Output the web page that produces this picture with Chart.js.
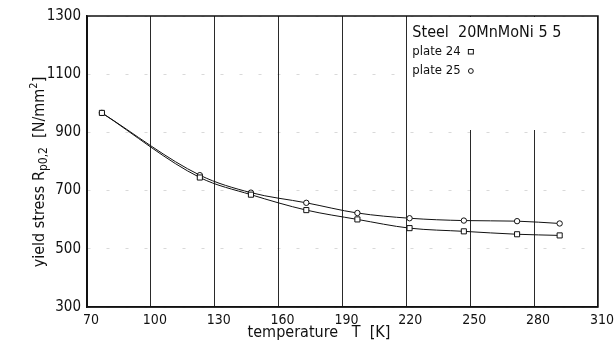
<!DOCTYPE html>
<html>
<head>
<meta charset="utf-8">
<script src="https://cdn.jsdelivr.net/npm/chart.js@4"></script>
<style>
  html, body { margin: 0; padding: 0; background: #fff; }
  #wrap { width: 615px; height: 348px; }
</style>
</head>
<body>
<div id="wrap"><canvas id="yieldChart" width="615" height="348"></canvas></div>
<script>
const temperatures = [77, 123, 147, 173, 197, 221.5, 247, 272, 292];
const plate24 = [967, 745, 686, 633, 601, 571, 560, 550, 546];
const plate25 = [967, 753, 693, 658, 623, 605, 597, 595, 587];
const xTicks = [70, 100, 130, 160, 190, 220, 250, 280, 310];
const yTicks = [300, 500, 700, 900, 1100, 1300];

const FONT = '"DejaVu Sans Condensed", "Liberation Sans Narrow", sans-serif';

function toPoints(xs, ys) {
    return xs.map(function (x, i) { return { x: x, y: ys[i] }; });
}

// frame, legend block and axis titles
const decorations = {
    id: 'decorations',
    beforeDatasetsDraw(chart) {
        const ctx = chart.ctx;
        const a = chart.chartArea;
        const left = chart.scales.x.getPixelForValue(220) + 1;
        ctx.save();
        ctx.fillStyle = '#fff';
        ctx.fillRect(left, a.top + 1, a.right - left - 1, 113);
        ctx.restore();
    },
    afterDraw(chart) {
        const ctx = chart.ctx;
        const a = chart.chartArea;
        ctx.save();
        ctx.strokeStyle = '#111';
        ctx.lineWidth = 1.5;
        ctx.strokeRect(a.left, a.top, a.right - a.left, a.bottom - a.top);

        // legend
        const lx = chart.scales.x.getPixelForValue(220) + 6;
        ctx.fillStyle = '#111';
        ctx.textBaseline = 'middle';
        ctx.font = '16px ' + FONT;
        ctx.fillText('Steel  20MnMoNi 5 5', lx, 33);
        ctx.font = '13px ' + FONT;
        ctx.fillText('plate 24', lx, 52);
        ctx.fillText('plate 25', lx, 71);
        ctx.lineWidth = 1;
        ctx.strokeRect(lx + 56, 49.5, 5, 4.5);
        ctx.beginPath();
        ctx.arc(lx + 58.5, 71, 2.4, 0, Math.PI * 2);
        ctx.stroke();

        // x title
        ctx.font = '16px ' + FONT;
        ctx.textAlign = 'center';
        ctx.fillText('temperature   T  [K]', 319, 333);

        // y title with sub/superscript
        ctx.translate(40, 172);
        ctx.rotate(-Math.PI / 2);
        const parts = [
            ['yield stress R', 16, 0],
            ['p0,2', 12, 4],
            ['  [N/mm', 16, 0],
            ['2', 11, -6],
            [']', 16, 0]
        ];
        let total = 0;
        parts.forEach(function (p) {
            ctx.font = p[1] + 'px ' + FONT;
            total += ctx.measureText(p[0]).width;
        });
        let x = -total / 2;
        ctx.textAlign = 'left';
        parts.forEach(function (p) {
            ctx.font = p[1] + 'px ' + FONT;
            ctx.fillText(p[0], x, p[2]);
            x += ctx.measureText(p[0]).width;
        });
        ctx.restore();
    }
};

const ctx = document.getElementById('yieldChart').getContext('2d');
new Chart(ctx, {
    type: 'line',
    data: {
        datasets: [{
            label: 'plate 24',
            data: toPoints(temperatures, plate24),
            borderColor: '#111',
            borderWidth: 1,
            backgroundColor: '#fff',
            pointStyle: 'rect',
            pointRadius: 3.6,
            pointBorderWidth: 1,
            pointBorderColor: '#111',
            cubicInterpolationMode: 'monotone'
        }, {
            label: 'plate 25',
            data: toPoints(temperatures, plate25),
            borderColor: '#111',
            borderWidth: 1,
            backgroundColor: '#fff',
            pointStyle: 'circle',
            pointRadius: 2.7,
            pointBorderWidth: 1,
            pointBorderColor: '#111',
            cubicInterpolationMode: 'monotone'
        }]
    },
    options: {
        responsive: false,
        animation: false,
        layout: { padding: { left: 0, right: 16, top: 16, bottom: 0 } },
        plugins: {
            legend: { display: false },
            tooltip: { enabled: false }
        },
        scales: {
            x: {
                type: 'linear',
                min: 70,
                max: 310,
                afterBuildTicks: function (scale) {
                    scale.ticks = xTicks.map(function (v) { return { value: v }; });
                },
                afterFit: function (scale) { scale.height = 41; },
                grid: { color: '#2a2a2a', lineWidth: 1, drawTicks: false },
                border: { color: '#111', width: 1.5 },
                ticks: {
                    color: '#111',
                    padding: 5,
                    labelOffset: 4,
                    font: { family: FONT, size: 14 },
                    callback: function (v) { return String(v); }
                }
            },
            y: {
                min: 300,
                max: 1300,
                afterBuildTicks: function (scale) {
                    scale.ticks = yTicks.map(function (v) { return { value: v }; });
                },
                afterFit: function (scale) { scale.width = 87; },
                grid: { color: 'rgba(0,0,0,0.15)', lineWidth: 1, drawTicks: false },
                border: { color: '#111', width: 1.5, dash: [3, 16] },
                ticks: {
                    color: '#111',
                    padding: 6,
                    font: { family: FONT, size: 15 },
                    callback: function (v) { return String(v); }
                }
            }
        }
    },
    plugins: [decorations]
});
</script>
</body>
</html>
